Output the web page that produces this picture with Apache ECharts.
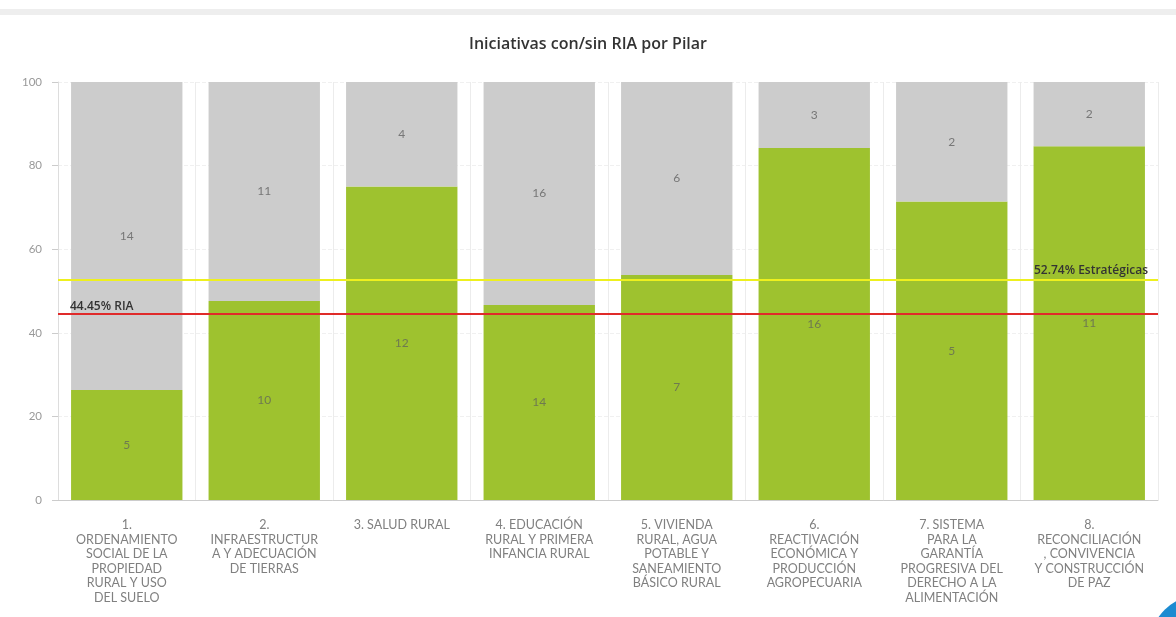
<!DOCTYPE html>
<html><head><meta charset="utf-8">
<script src="https://cdn.jsdelivr.net/npm/echarts@6/dist/echarts.min.js"></script>
<style>html,body{margin:0;padding:0;background:#fff}#c{width:1176px;height:617px}</style>
</head><body><div id="c"></div>
<script>
const categories = [
  "1.\nORDENAMIENTO\nSOCIAL DE LA\nPROPIEDAD\nRURAL Y USO\nDEL SUELO",
  "2.\nINFRAESTRUCTUR\nA Y ADECUACIÓN\nDE TIERRAS",
  "3. SALUD RURAL",
  "4. EDUCACIÓN\nRURAL Y PRIMERA\nINFANCIA RURAL",
  "5. VIVIENDA\nRURAL, AGUA\nPOTABLE Y\nSANEAMIENTO\nBÁSICO RURAL",
  "6.\nREACTIVACIÓN\nECONÓMICA Y\nPRODUCCIÓN\nAGROPECUARIA",
  "7. SISTEMA\nPARA LA\nGARANTÍA\nPROGRESIVA DEL\nDERECHO A LA\nALIMENTACIÓN",
  "8.\nRECONCILIACIÓN\n, CONVIVENCIA\nY CONSTRUCCIÓN\nDE PAZ"
];
const conRIA = [5, 10, 12, 14, 7, 16, 5, 11];
const sinRIA = [14, 11, 4, 16, 6, 3, 2, 2];
const yTicks = [0, 20, 40, 60, 80, 100];
const riaLine = 44.45;
const estrategicasLine = 52.74;

const conPct = conRIA.map((v, i) => v / (v + sinRIA[i]) * 100);
const sinPct = sinRIA.map((v, i) => v / (v + conRIA[i]) * 100);

const chart = echarts.init(document.getElementById('c'));
const lblFont = 'Lato, "Open Sans", sans-serif';
const boldFont = '"Open Sans", sans-serif';
chart.setOption({
  animation: false,
  backgroundColor: '#fff',
  title: {
    text: 'Iniciativas con/sin RIA por Pilar',
    left: 'center', top: 31,
    textStyle: {fontSize: 16, fontWeight: 600, color: '#333', fontFamily: boldFont}
  },
  graphic: [
    {type: 'rect', left: 0, top: 9, shape: {width: 1176, height: 6}, style: {fill: '#eeeeee'}},
    {type: 'circle', shape: {cx: 1200, cy: 645, r: 50}, style: {fill: '#1c8bd1'}}
  ],
  grid: {left: 58, right: 18, top: 82, bottom: 117},
  xAxis: {
    type: 'category', data: categories,
    axisLine: {lineStyle: {color: '#ccc'}},
    axisTick: {alignWithLabel: true, lineStyle: {color: '#ccc'}},
    splitLine: {show: true, lineStyle: {color: '#ececec'}},
    axisLabel: {interval: 0, color: '#808080', fontSize: 12.5, lineHeight: 14.5, margin: 18, fontFamily: lblFont}
  },
  yAxis: {
    type: 'value', min: 0, max: 100, interval: 20,
    axisLine: {show: true, lineStyle: {color: '#ddd'}},
    axisTick: {show: true, length: 6, lineStyle: {color: '#ccc'}},
    splitLine: {show: true, lineStyle: {color: '#f0f0f0', type: 'dashed'}},
    axisLabel: {color: '#999', fontSize: 11.5, margin: 16, fontFamily: lblFont,
      formatter: v => yTicks.includes(v) ? String(v) : ''}
  },
  series: [
    {
      name: 'Con RIA', type: 'bar', stack: 'a', data: conPct, barCategoryGap: '19%',
      itemStyle: {color: '#9ec22f'},
      label: {show: true, position: 'inside', color: '#6f7a50', fontSize: 12, fontFamily: lblFont,
        formatter: p => String(conRIA[p.dataIndex])},
      markLine: {
        symbol: 'none', silent: true,
        data: [{yAxis: riaLine}],
        lineStyle: {color: '#e02a2a', width: 2, type: 'solid'},
        label: {position: 'insideStartTop', formatter: riaLine + '% RIA', color: '#333',
          fontWeight: 600, fontSize: 12, fontFamily: boldFont, distance: [12, 2]}
      }
    },
    {
      name: 'Sin RIA', type: 'bar', stack: 'a', data: sinPct,
      itemStyle: {color: '#cccccc'},
      label: {show: true, position: 'inside', color: '#777', fontSize: 12, fontFamily: lblFont,
        formatter: p => String(sinRIA[p.dataIndex])},
      markLine: {
        symbol: 'none', silent: true,
        data: [{yAxis: estrategicasLine}],
        lineStyle: {color: '#eef01e', width: 2, type: 'solid'},
        label: {position: 'insideEndTop', formatter: estrategicasLine + '% Estratégicas', color: '#333',
          fontWeight: 600, fontSize: 12, fontFamily: boldFont, distance: [10, 3]}
      }
    }
  ]
});
</script></body></html>
